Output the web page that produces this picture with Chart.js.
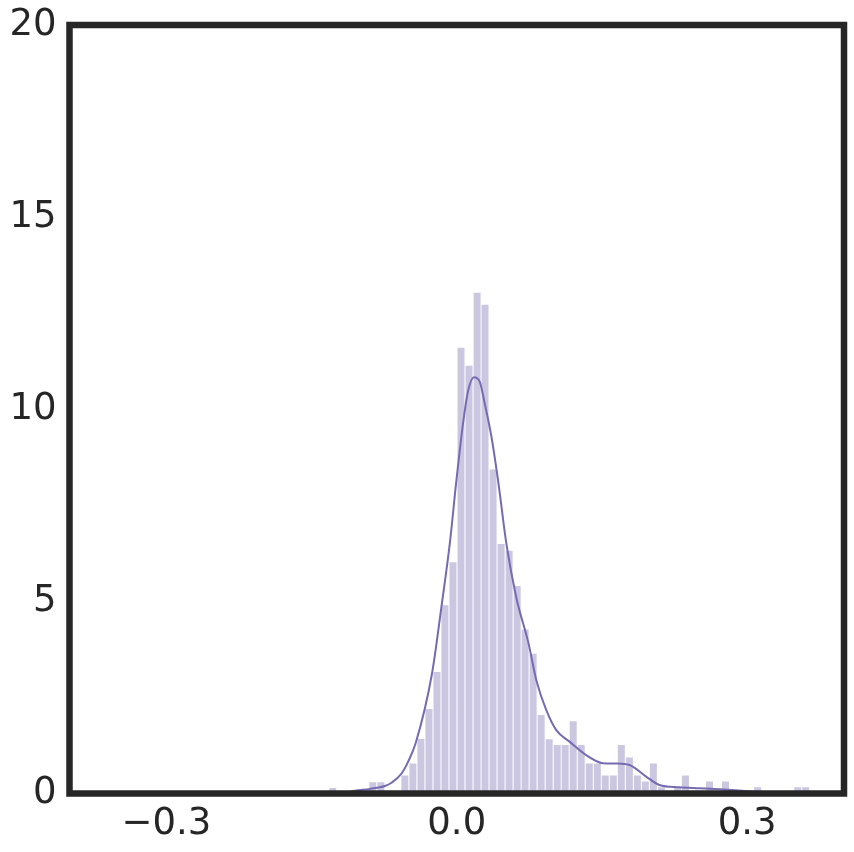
<!DOCTYPE html>
<html>
<head>
<meta charset="utf-8">
<script src="https://cdn.jsdelivr.net/npm/chart.js@4.4.1/dist/chart.umd.min.js"></script>
<style>
  html, body { margin: 0; padding: 0; background: #ffffff; }
  #wrap { width: 854px; height: 852px; position: relative; }
</style>
</head>
<body>
<div id="wrap"><canvas id="c"></canvas></div>
<script>
// Histogram bin centers (x values)
const binCenters = [
  -0.1281,-0.1198,-0.1115,-0.1032,-0.0950,-0.0867,-0.0784,-0.0701,-0.0618,-0.0536,
  -0.0453,-0.0370,-0.0287,-0.0204,-0.0122,-0.0039,0.0044,0.0127,0.0210,0.0292,
  0.0375,0.0458,0.0541,0.0624,0.0706,0.0789,0.0872,0.0955,0.1038,0.1120,
  0.1203,0.1286,0.1369,0.1452,0.1534,0.1617,0.1700,0.1783,0.1866,0.1948,
  0.2031,0.2114,0.2197,0.2280,0.2362,0.2445,0.2528,0.2611,0.2694,0.2776,
  0.2859,0.2942,0.3025,0.3108,0.3190,0.3273,0.3356,0.3439,0.3522,0.3604
];
// Histogram densities
const binDensity = [
  0.14,0,0,0,0,0.29,0.29,0,0,0.47,
  0.78,1.42,2.2,3.16,4.9,6.02,11.6,11.13,13.03,12.72,
  8.43,6.49,6.32,5.4,4.27,3.64,2.04,1.41,1.26,1.26,
  1.88,1.26,0.78,0.78,0.47,0.47,1.26,0.94,0.47,0.31,
  0.78,0.16,0,0.16,0.47,0,0,0.31,0,0.31,
  0,0,0,0.16,0,0,0,0,0.16,0.16
];
// KDE curve
const kdeX = [-0.125,-0.1155,-0.105,-0.0897,-0.0742,-0.0673,-0.0570,-0.0502,-0.0423,-0.0255,-0.0158,-0.0072,-0.0003,0.0065,0.0116,0.0178,0.0237,0.0289,0.0358,0.0426,0.0512,0.0615,0.0742,0.0822,0.0925,0.1028,0.1165,0.1337,0.1508,0.1647,0.1784,0.1956,0.2093,0.2299,0.2505,0.2711,0.2948,0.323,0.354,0.38];
const kdeY = [0.0,0.02,0.07,0.12,0.195,0.28,0.52,0.83,1.32,3.13,4.86,6.5,8.16,9.63,10.46,10.83,10.72,10.15,9.29,8.16,6.51,5.1,3.9,2.95,2.17,1.65,1.35,1.0,0.79,0.78,0.74,0.44,0.22,0.16,0.135,0.11,0.07,0.03,0.02,0.01];
// Axis ticks
const xTicks = [-0.3, 0.0, 0.3];
const yTicks = [0, 5, 10, 15, 20];

const purple = 'rgb(117,107,177)';
const ink = '#262626';

const framePlugin = {
  id: 'frame',
  afterDraw(chart) {
    const a = chart.chartArea, ctx = chart.ctx;
    ctx.save();
    ctx.strokeStyle = ink;
    ctx.lineWidth = 6.5;
    ctx.lineJoin = 'miter';
    ctx.strokeRect(a.left, a.top, a.right - a.left, a.bottom - a.top);
    ctx.restore();
  }
};

new Chart(document.getElementById('c'), {
  type: 'bar',
  data: {
    datasets: [
      {
        type: 'line',
        data: kdeX.map((x, i) => ({ x: x, y: kdeY[i] })),
        borderColor: purple,
        borderWidth: 2,
        pointRadius: 0,
        fill: false,
        cubicInterpolationMode: 'monotone',
        order: 0
      },
      {
        type: 'bar',
        data: binCenters.map((x, i) => ({ x: x, y: binDensity[i] })),
        backgroundColor: 'rgba(117,107,177,0.38)',
        borderWidth: 0,
        barPercentage: 0.88,
        categoryPercentage: 1.0,
        order: 1
      }
    ]
  },
  options: {
    responsive: true,
    maintainAspectRatio: false,
    animation: false,
    layout: { padding: { left: 0, top: 25, right: 10, bottom: 0 } },
    plugins: { legend: { display: false }, tooltip: { enabled: false } },
    scales: {
      x: {
        type: 'linear',
        min: -0.4, max: 0.4,
        offset: false,
        grid: { display: false, drawTicks: false },
        border: { display: false },
        afterBuildTicks: (s) => { s.ticks = xTicks.map(v => ({ value: v })); },
        afterFit: (s) => { s.height = 58.5; s.paddingLeft = 0; s.paddingRight = 0; },
        ticks: {
          padding: 9,
          color: ink,
          font: { family: 'DejaVu Sans', size: 37 },
          maxRotation: 0,
          callback: (v) => Number(v).toFixed(1).replace('-', '\u2212')
        }
      },
      y: {
        min: 0, max: 20,
        grid: { display: false, drawTicks: false },
        border: { display: false },
        afterBuildTicks: (s) => { s.ticks = yTicks.map(v => ({ value: v })); },
        afterFit: (s) => { s.width = 69.5; s.paddingTop = 0; s.paddingBottom = 0; },
        ticks: {
          padding: 13,
          color: ink,
          font: { family: 'DejaVu Sans', size: 37 }
        }
      }
    }
  },
  plugins: [framePlugin]
});
</script>
</body>
</html>
